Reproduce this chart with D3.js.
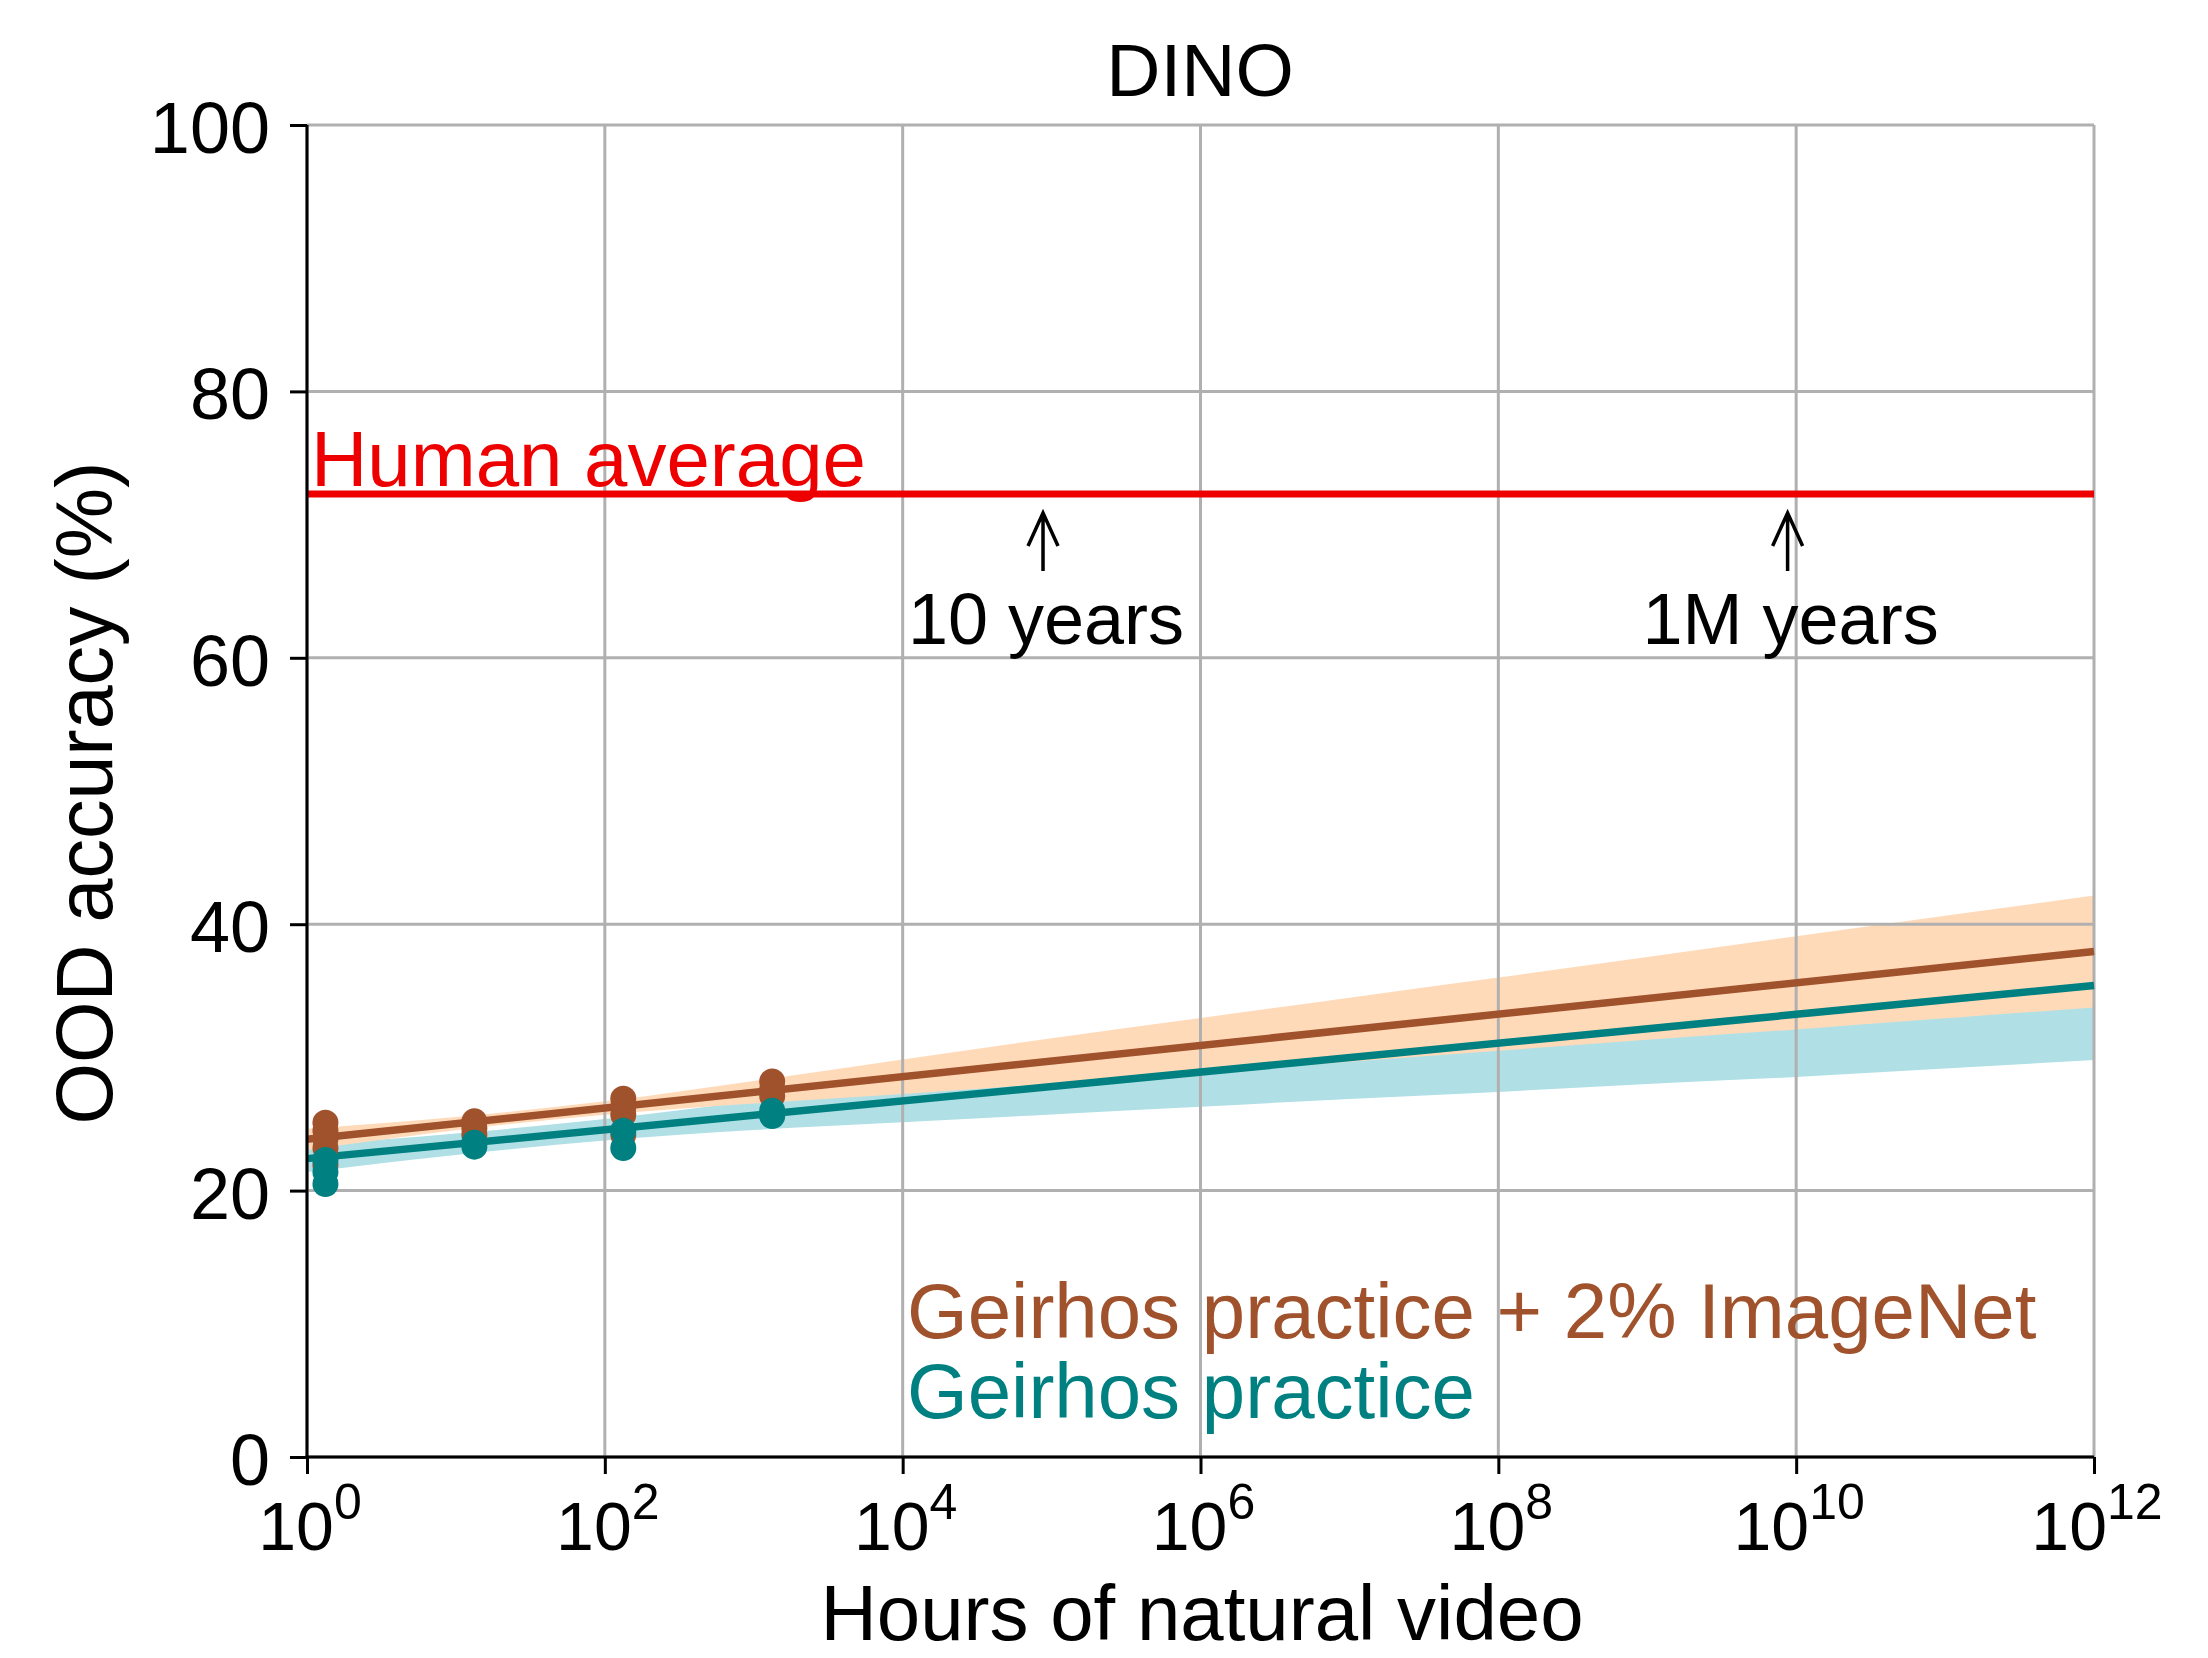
<!DOCTYPE html>
<html><head><meta charset="utf-8">
<script src="https://cdn.jsdelivr.net/npm/d3@7"></script>
<style>
html,body{margin:0;background:#fff}
svg{display:block}
text{font-family:"Liberation Sans",Arial,Helvetica,sans-serif}
</style>
</head><body>
<svg id="chart" width="2208" height="1658"></svg>
<script>
// Training data amount (hours of natural video) for each run group
const videoHours = [1.33, 13.3, 133, 1330];
// OOD accuracy of individual runs at each data amount
const imagenetRuns = [[25.1, 24.5, 23.9, 23.2, 21.9], [25.2, 24.7, 24.2], [26.9, 26.3, 25.7, 24.2], [28.2, 27.6, 27.1]];
const practiceRuns = [[22.3, 21.4, 20.5], [23.6, 23.3], [24.5, 23.2], [26.0, 25.6]];
// Log-linear fits, evaluated at the ends of the x range
const fitHours = [1, 1e12];
const imagenetFit = [23.85, 37.95];
const practiceFit = [22.4, 35.4];
// Confidence bands of the fits, one value per decade
const bandHours = [1, 1e1, 1e2, 1e3, 1e4, 1e5, 1e6, 1e7, 1e8, 1e9, 1e10, 1e11, 1e12];
const imagenetLower = [23.05, 24.53, 25.7, 26.53, 27.25, 28.03, 28.85, 29.68, 30.5, 31.33, 32.1, 32.93, 33.75];
const imagenetUpper = [24.65, 25.53, 26.7, 28.23, 29.85, 31.43, 32.95, 34.48, 36.0, 37.53, 39.1, 40.63, 42.15];
const practiceLower = [21.4, 22.68, 23.77, 24.55, 25.13, 25.72, 26.3, 26.88, 27.41, 28.0, 28.53, 29.16, 29.8];
const practiceUpper = [23.4, 24.28, 25.37, 26.75, 28.33, 29.92, 31.5, 33.08, 34.71, 36.3, 37.93, 39.46, 41.0];
// Reference level and milestones
const humanAverage = 72.3;
const milestoneHours = [87600, 8.76e9];
const milestoneLabels = ["10 years", "1M years"];
// Axis ticks
const xTickHours = [1, 1e2, 1e4, 1e6, 1e8, 1e10, 1e12];
const xTickExponents = ["0", "2", "4", "6", "8", "10", "12"];
const yTicks = [0, 20, 40, 60, 80, 100];
const legendLabels = ["Geirhos practice + 2% ImageNet", "Geirhos practice"];

const BROWN = "#a0522d", TEAL = "#008080", PEACH = "#ffdab9", POWDER = "#b0e0e6", RED = "#ee0000", GRID = "#b0b0b0";

const svg = d3.select("#chart");
svg.append("rect").attr("width", 2208).attr("height", 1658).attr("fill", "#fff");

const x = d3.scaleLog().domain([1, 1e12]).range([307, 2094]);
const y = d3.scaleLinear().domain([0, 100]).range([1457, 125]);

// confidence bands
const area = d3.area().curve(d3.curveMonotoneX).x(d => x(d.h)).y0(d => y(d.lo)).y1(d => y(d.hi));
const band = (lo, hi) => bandHours.map((h, i) => ({h, lo: lo[i], hi: hi[i]}));
svg.append("path").datum(band(practiceLower, practiceUpper)).attr("d", area).attr("fill", POWDER);
svg.append("path").datum(band(imagenetLower, imagenetUpper)).attr("d", area).attr("fill", PEACH);

// grid
const grid = svg.append("g").attr("stroke", GRID).attr("stroke-width", 3);
grid.selectAll("line.v").data(xTickHours).join("line")
  .attr("x1", d => x(d)).attr("x2", d => x(d)).attr("y1", y(0)).attr("y2", y(100));
grid.selectAll("line.h").data(yTicks).join("line")
  .attr("y1", d => y(d)).attr("y2", d => y(d)).attr("x1", x(1)).attr("x2", x(1e12));

// human level
svg.append("line").attr("x1", x(1)).attr("x2", x(1e12))
  .attr("y1", y(humanAverage)).attr("y2", y(humanAverage))
  .attr("stroke", RED).attr("stroke-width", 7);
svg.append("text").attr("x", x(1) + 4).attr("y", y(humanAverage) - 8)
  .attr("font-size", 78).attr("fill", RED).text("Human average");

// milestone arrows
milestoneHours.forEach((h, i) => {
  const cx = x(h), tip = y(humanAverage) + 19, tail = y(humanAverage) + 77;
  svg.append("path")
    .attr("d", `M${cx},${tail}L${cx},${tip + 2}M${cx - 15},${tip + 33}L${cx},${tip}L${cx + 15},${tip + 33}`)
    .attr("fill", "none").attr("stroke", "#000").attr("stroke-width", 3.5);
  svg.append("text").attr("x", cx + 3).attr("y", y(humanAverage) + 150)
    .attr("text-anchor", "middle").attr("font-size", 72).text(milestoneLabels[i]);
});

// fit lines
const line = d3.line().x(d => x(d[0])).y(d => y(d[1]));
[[imagenetFit, BROWN], [practiceFit, TEAL]].forEach(([fit, c]) => {
  svg.append("path").datum(fitHours.map((h, i) => [h, fit[i]])).attr("d", line)
    .attr("fill", "none").attr("stroke", c).attr("stroke-width", 7.5);
});

// runs
[[imagenetRuns, BROWN], [practiceRuns, TEAL]].forEach(([runs, c]) => {
  const pts = runs.flatMap((vals, i) => vals.map(v => [videoHours[i], v]));
  svg.append("g").selectAll("circle").data(pts).join("circle")
    .attr("cx", d => x(d[0])).attr("cy", d => y(d[1])).attr("r", 13).attr("fill", c);
});

// axes
const xAxis = svg.append("g").attr("transform", `translate(0,${y(0)})`)
  .call(d3.axisBottom(x).tickValues(xTickHours).tickFormat("").tickSize(17).tickSizeOuter(0));
const yAxis = svg.append("g").attr("transform", `translate(${x(1)},0)`)
  .call(d3.axisLeft(y).tickValues(yTicks).tickFormat("").tickSize(17).tickSizeOuter(0));
[xAxis, yAxis].forEach(a => {
  a.selectAll("path,line").attr("stroke", "#000").attr("stroke-width", 3);
});
xAxis.select(".domain").attr("d", `M${x(1) - 1.5},0H${x(1e12)}`);
yAxis.select(".domain").attr("d", `M0,${y(0) + 1.5}V${y(100)}`);

// tick labels
xTickHours.forEach((h, i) => {
  const t = svg.append("text").attr("x", x(h) + 3).attr("y", 1550).attr("text-anchor", "middle");
  t.append("tspan").attr("font-size", 68).text("10");
  t.append("tspan").attr("font-size", 50).attr("dy", -31).text(xTickExponents[i]);
});
svg.append("g").selectAll("text").data(yTicks).join("text")
  .attr("x", 270).attr("y", d => y(d) + 28).attr("text-anchor", "end")
  .attr("font-size", 72).text(d => d);

// titles
svg.append("text").attr("x", 1200).attr("y", 96).attr("text-anchor", "middle")
  .attr("font-size", 75).text("DINO");
svg.append("text").attr("x", 1202).attr("y", 1640).attr("text-anchor", "middle")
  .attr("font-size", 78).text("Hours of natural video");
svg.append("text").attr("transform", "translate(112,793) rotate(-90)").attr("text-anchor", "middle")
  .attr("font-size", 79).text("OOD accuracy (%)");

// legend
svg.append("text").attr("x", 907).attr("y", 1338).attr("font-size", 78).attr("fill", BROWN).text(legendLabels[0]);
svg.append("text").attr("x", 907).attr("y", 1418).attr("font-size", 78).attr("fill", TEAL).text(legendLabels[1]);
</script>
</body></html>
